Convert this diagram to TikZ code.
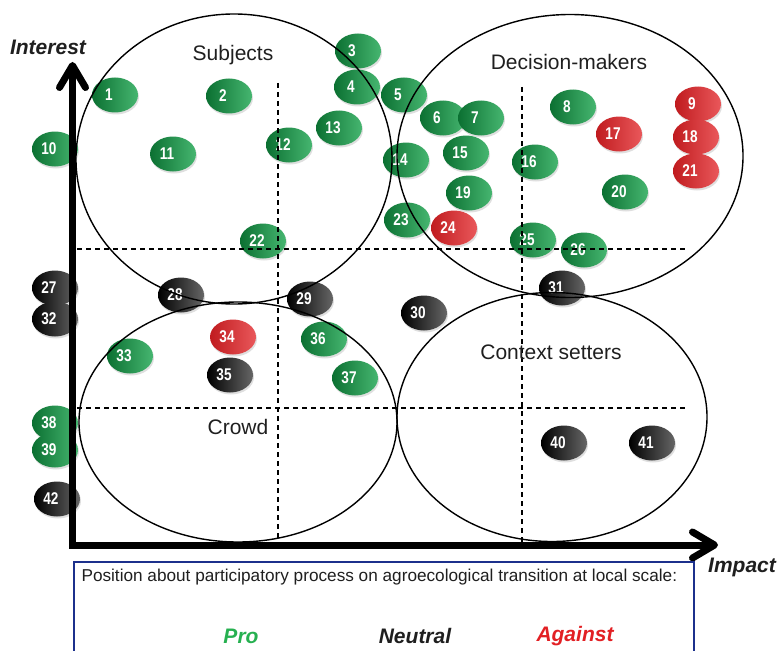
\documentclass[tikz,border=0pt]{standalone}
\usepackage{fontspec}
\setmainfont{Liberation Sans}
\newfontfamily\tokfont{Liberation Sans}[FakeStretch=0.8]
\usetikzlibrary{shapes.geometric,shadows,arrows.meta}
\definecolor{progreen}{RGB}{14,140,62}
\definecolor{prolight}{RGB}{70,182,112}
\definecolor{againstred}{RGB}{226,32,36}
\definecolor{legendblue}{RGB}{28,48,140}
\definecolor{protext}{RGB}{38,176,80}
\newcommand{\tokno}[1]{\makebox[0pt]{\hspace*{-12pt}#1}}
\tikzset{
  token/.style={ellipse, minimum width=46, minimum height=35, inner sep=0pt,
    drop shadow={shadow xshift=1pt, shadow yshift=-2pt, opacity=0.25},
    font=\tokfont\bfseries\fontsize{17}{17}\selectfont, text=white},
  pro/.style={token, left color=progreen!80!black, right color=prolight},
  neutral/.style={token, left color=black, right color=black!60},
  against/.style={token, left color=againstred!85!black, right color=againstred!75!white},
  group/.style={draw, ellipse, line width=1.4pt, inner sep=0pt},
  grouplabel/.style={font=\fontsize{21}{21}\selectfont, text=black!88},
  axislabel/.style={font=\fontsize{21}{21}\selectfont\bfseries\itshape, text=black!88},
  axis/.style={line width=7pt, -{Straight Barb[length=22pt, width=26pt, round]}},
  quarter/.style={line width=1.1pt, dash pattern=on 5pt off 4pt}
}
\begin{document}
\begin{tikzpicture}[x=1pt, y=-1pt]
    \useasboundingbox (0,0) rectangle (778,650);
    \foreach \n/\x/\y/\c in {1/109/95/pro, 2/223/96/pro, 3/352/51/pro, 4/351/87/pro,
        5/398/95/pro, 6/437/118/pro, 7/475/118/pro, 8/567/107/pro, 9/692/104/against,
        10/49/149/pro, 11/167/154/pro, 12/283/145/pro, 13/333/128/pro, 14/400/160/pro,
        15/460/153/pro, 16/529/162/pro, 17/613/134/against, 18/690/137/against,
        19/463/193/pro, 20/619/192/pro, 21/690/171/against, 22/257/241/pro,
        23/401/220/pro, 24/448/228/against, 25/527/240/pro, 26/578/250/pro,
        27/49/288/neutral, 28/175/295/neutral, 29/304/299/neutral, 30/418/313/neutral,
        31/556/288/neutral, 32/49/319/neutral, 33/124/356/pro, 34/227/337/against,
        35/224/375/neutral, 36/318/339/pro, 37/349/378/pro, 38/49/423/pro,
        39/49/450/pro, 40/558/443/neutral, 41/646/443/neutral, 42/51/499/neutral}
        \node[\c] (t\n) at (\x+6,\y) {\tokno{\n}};

    \node[group, minimum width=316, minimum height=290] (subjects) at (234,159) {};
    \node[group, minimum width=346, minimum height=283] (deciders) at (570,156) {};
    \node[group, minimum width=318, minimum height=240] (crowd) at (238,422) {};
    \node[group, minimum width=310, minimum height=249] (setters) at (552,417) {};

    \coordinate (v1top) at (278,83);
    \coordinate (v1bot) at (278,545);
    \coordinate (v2top) at (522,87);
    \coordinate (v2bot) at (522,545);
    \coordinate (h1left) at (77,249);
    \coordinate (h1right) at (687,249);
    \coordinate (h2left) at (77,408);
    \coordinate (h2right) at (687,408);
    \draw [quarter] (v1top) -- (v1bot);
    \draw [quarter] (v2top) -- (v2bot);
    \draw [quarter] (h1left) -- (h1right);
    \draw [quarter] (h2left) -- (h2right);

    \coordinate (origin) at (72.5,545);
    \coordinate (ytip) at (72.5,62);
    \coordinate (xtip) at (718,545);
    \draw [axis] (origin) -- (ytip);
    \draw [axis] ([xshift=-3.5pt]origin) -- (xtip);

    \node[axislabel] (interest) at (48,47) {Interest};
    \node[axislabel] (impact) at (742,567) {Impact};
    \node[grouplabel] (subjectslabel) at (233,55) {Subjects};
    \node[grouplabel] (deciderslabel) at (569,62) {Decision-makers};
    \node[grouplabel] (crowdlabel) at (238,427) {Crowd};
    \node[grouplabel] (setterslabel) at (551,352) {Context setters};

    \node[draw=legendblue, line width=1.5pt, minimum width=620, minimum height=100,
        anchor=north west, inner sep=0pt] (legend) at (73,561) {};
    \node[anchor=west, font=\fontsize{17.2}{17.2}\selectfont, text=black!88] (position) at (78,577)
        {Position about participatory process on agroecological transition at local scale:};
    \node[axislabel, text=protext] (prolabel) at (241,636) {Pro};
    \node[axislabel] (neutrallabel) at (415,636) {Neutral};
    \node[axislabel, text=againstred] (againstlabel) at (575,636) {Against};
\end{tikzpicture}
\end{document}
